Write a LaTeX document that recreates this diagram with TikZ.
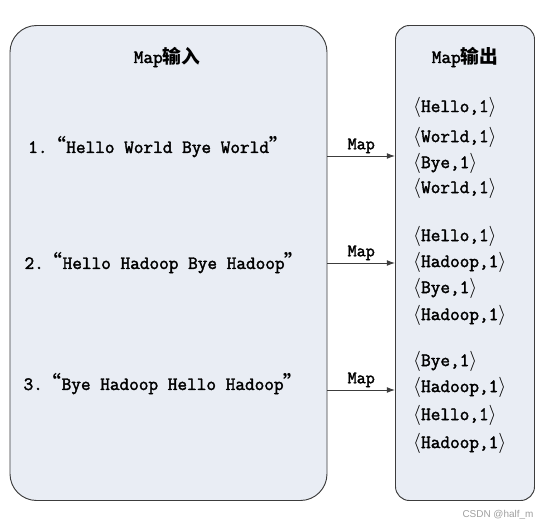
\documentclass[tikz,border=0pt]{standalone}
\usepackage{fontspec}
\setmainfont{Latin Modern Mono}[AutoFakeBold=2]
\newfontfamily\cjk{Noto Sans CJK SC}
\newfontfamily\wmfont{Liberation Sans}
\newcommand\oq{{\cjk “}}
\newcommand\cq{{\cjk ”}}
\usetikzlibrary{arrows.meta}
\definecolor{boxfill}{HTML}{E9EDF4}
\definecolor{boxline}{HTML}{3C3C3C}

\begin{document}
\begin{tikzpicture}[x=0.03cm, y=-0.03cm,
  box/.style={rectangle, draw=boxline, fill=boxfill, line width=0.8pt,
              minimum height=14.25cm},
  title/.style={font=\fontsize{16}{19}\selectfont\bfseries},
  sentence/.style={font=\fontsize{16}{19}\selectfont\bfseries, inner sep=0pt},
  pair/.style={font=\fontsize{16}{19}\selectfont\bfseries, anchor=west, inner sep=0pt},
  arrow/.style={-{Latex[length=7pt,width=5pt]}, line width=0.8pt, draw=boxline},
  maplbl/.style={font=\fontsize{15}{17}\selectfont\bfseries, above, inner sep=2pt}
]
\useasboundingbox (0,0) rectangle (553,531);

%% ---- BOXES ----
\node[box, rounded corners=0.8cm, minimum width=9.51cm] at (168.5,263) (inbox) {};
\node[box, rounded corners=0.42cm, minimum width=4.17cm] at (465,263) (outbox) {};

%% ---- TITLES ----
\node[title] at (167,57) (intitle)  {Map{\cjk 输入}};
\node[title] at (465,57) (outtitle) {Map{\cjk 输出}};

%% ---- INPUT LINES ----
\node[sentence] at (158,147) (in1) {1.\oq{}Hello World Bye World\cq};
\node[sentence] at (164,263) (in2) {2.\oq{}Hello Hadoop Bye Hadoop\cq};
\node[sentence] at (163,384) (in3) {3.\oq{}Bye Hadoop Hello Hadoop\cq};

%% ---- OUTPUT PAIRS ----
\node[pair] at (413,107) (o11) {$\langle$Hello,1$\rangle$};
\node[pair] at (413,137) (o12) {$\langle$World,1$\rangle$};
\node[pair] at (413,163) (o13) {$\langle$Bye,1$\rangle$};
\node[pair] at (413,188) (o14) {$\langle$World,1$\rangle$};

\node[pair] at (413,236) (o21) {$\langle$Hello,1$\rangle$};
\node[pair] at (413,262) (o22) {$\langle$Hadoop,1$\rangle$};
\node[pair] at (413,288) (o23) {$\langle$Bye,1$\rangle$};
\node[pair] at (413,315) (o24) {$\langle$Hadoop,1$\rangle$};

\node[pair] at (413,361) (o31) {$\langle$Bye,1$\rangle$};
\node[pair] at (413,387) (o32) {$\langle$Hadoop,1$\rangle$};
\node[pair] at (413,415) (o33) {$\langle$Hello,1$\rangle$};
\node[pair] at (413,443) (o34) {$\langle$Hadoop,1$\rangle$};

%% ---- ARROWS ----
\foreach \y/\n in {156/1, 263/2, 390/3} {
  \coordinate (row\n) at (0,\y);
  \draw[arrow] (inbox.east |- row\n) -- node[maplbl]{Map} (outbox.west |- row\n);
}

%% ---- watermark ----
\node[font=\wmfont\fontsize{8.5}{10}\selectfont, text=gray!75] at (498,515) (wm) {CSDN @half\_m};
\end{tikzpicture}
\end{document}
